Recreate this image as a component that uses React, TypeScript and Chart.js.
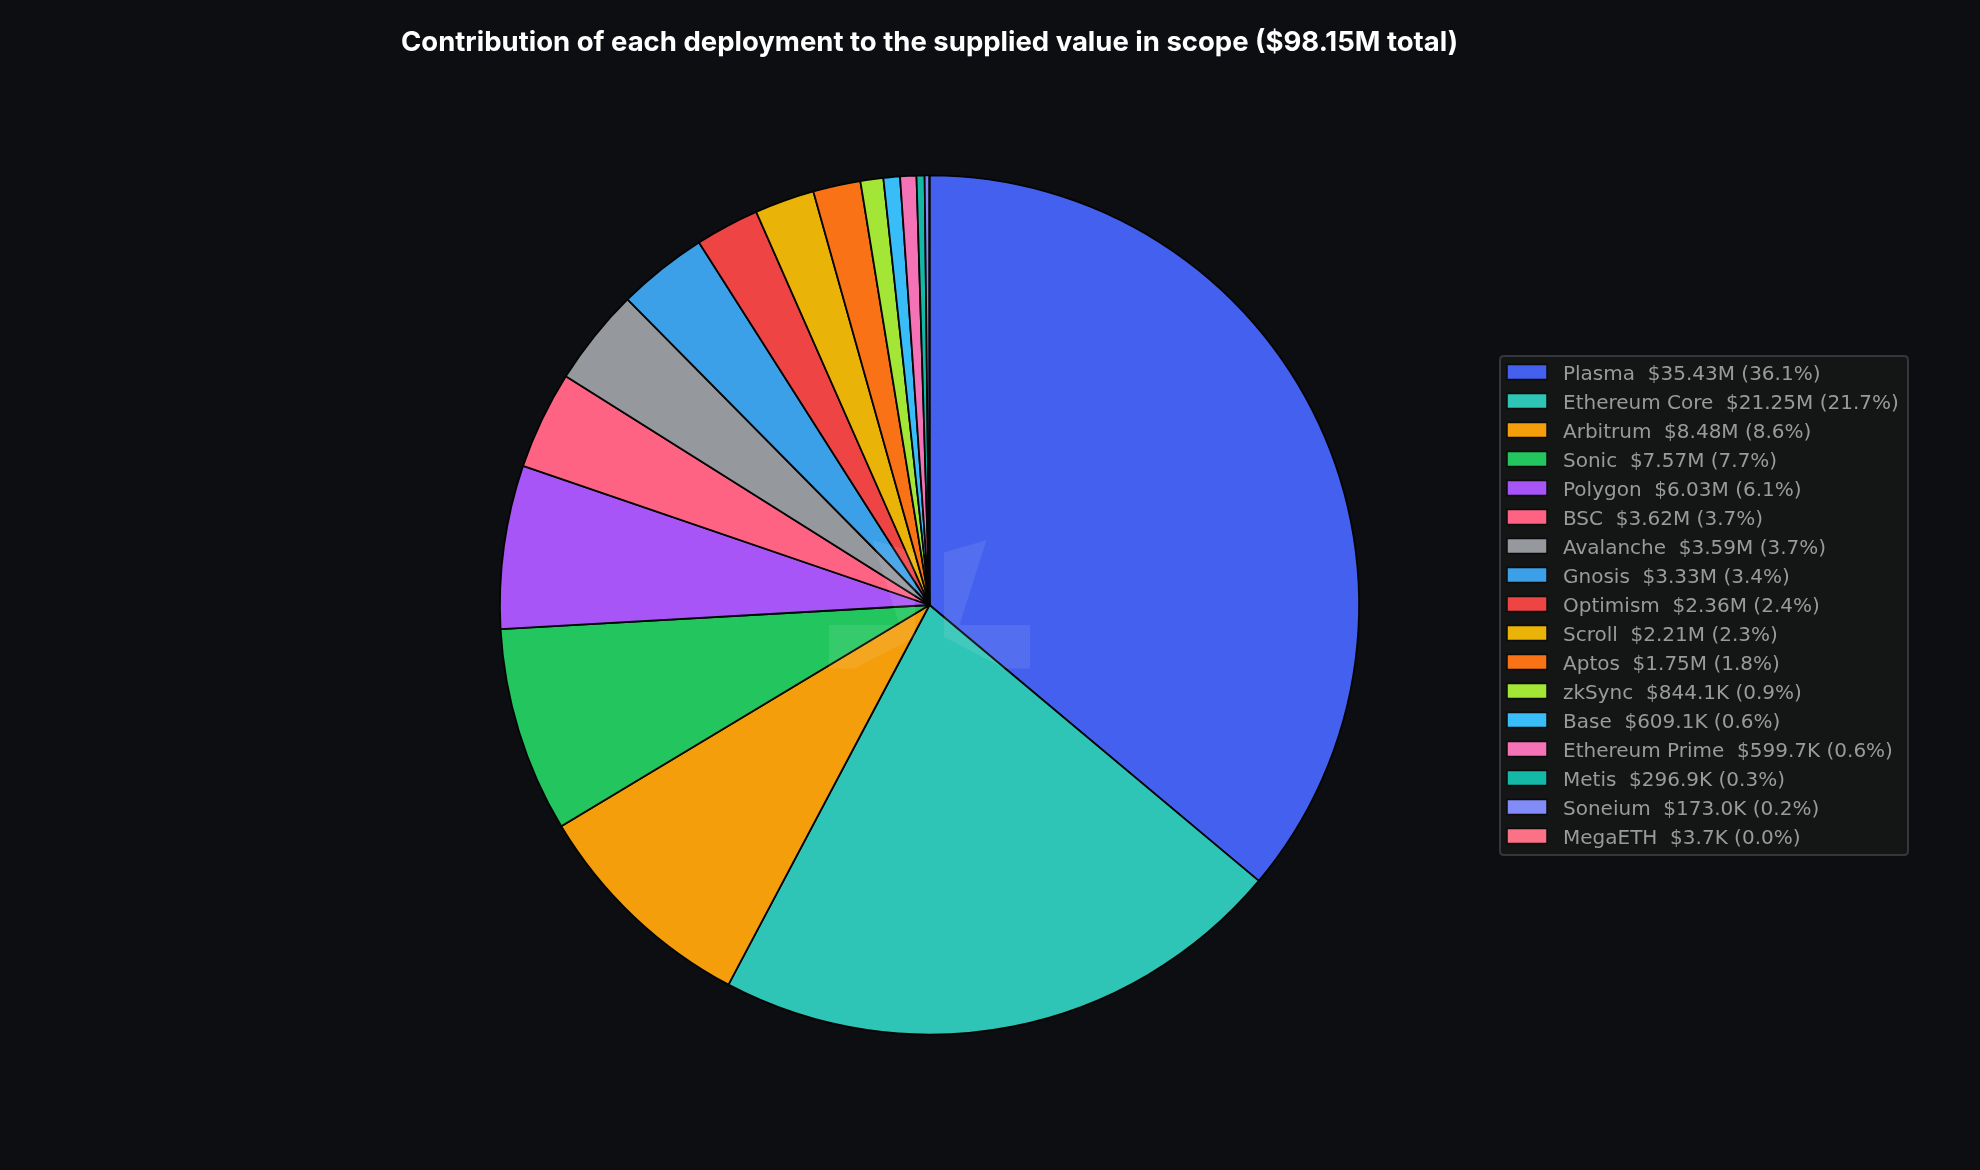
import React, { useEffect, useRef } from "react";
import { Chart, registerables } from "chart.js";

Chart.register(...registerables);

// ---- data ----
const deployments = [
  "Plasma",
  "Ethereum Core",
  "Arbitrum",
  "Sonic",
  "Polygon",
  "BSC",
  "Avalanche",
  "Gnosis",
  "Optimism",
  "Scroll",
  "Aptos",
  "zkSync",
  "Base",
  "Ethereum Prime",
  "Metis",
  "Soneium",
  "MegaETH",
];

// supplied value in $M
const suppliedM = [
  35.43, 21.25, 8.48, 7.57, 6.03, 3.62, 3.59, 3.33, 2.36, 2.21, 1.75, 0.8441,
  0.6091, 0.5997, 0.2969, 0.173, 0.0037,
];

const sliceColors = [
  "#4361EE",
  "#2EC4B6",
  "#F59E0B",
  "#22C55E",
  "#A855F7",
  "#FF6384",
  "#95989D",
  "#3BA0E8",
  "#EF4444",
  "#EAB308",
  "#F97316",
  "#A3E635",
  "#38BDF8",
  "#F472B6",
  "#14B8A6",
  "#818CF8",
  "#FB7185",
];

const total = suppliedM.reduce((a, b) => a + b, 0);
const fmtMoney = (v: number) =>
  v >= 1 ? `$${v.toFixed(2)}M` : `$${(v * 1000).toFixed(1)}K`;
const legendTexts = deployments.map(
  (d, i) =>
    `${d}  ${fmtMoney(suppliedM[i])} (${((suppliedM[i] / total) * 100).toFixed(1)}%)`
);
const titleText = `Contribution of each deployment to the supplied value in scope ($${total.toFixed(
  2
)}M total)`;

// ---- styling constants ----
const W = 1980;
const H = 1170;
const BG = "#0d0e11";

const watermarkPlugin = {
  id: "watermark",
  afterDatasetsDraw(chart: any) {
    const meta = chart.getDatasetMeta(0);
    if (!meta || !meta.data.length) return;
    const cx = meta.data[0].x;
    const cy = meta.data[0].y;
    const shape = [
      [14.5, -52.5],
      [57, -65],
      [30, 20],
      [100.5, 20],
      [100.5, 63.5],
      [75, 63.5],
      [14.5, 32],
    ];
    const ctx = chart.ctx;
    ctx.save();
    ctx.fillStyle = "rgba(255,255,255,0.085)";
    for (const sign of [1, -1]) {
      ctx.beginPath();
      shape.forEach(([x, y], i) => {
        const px = cx + sign * x;
        const py = cy + y;
        if (i === 0) ctx.moveTo(px, py);
        else ctx.lineTo(px, py);
      });
      ctx.closePath();
      ctx.fill();
    }
    ctx.restore();
  },
};

const legendBoxPlugin = {
  id: "customLegend",
  afterDraw(chart: any) {
    const ctx = chart.ctx;
    const boxX = 1500;
    const boxY = 356;
    const boxW = 408;
    const boxH = 499;
    const rowStart = 372;
    const rowStep = 29;
    ctx.save();
    // frame
    ctx.beginPath();
    const r = 4;
    ctx.moveTo(boxX + r, boxY);
    ctx.lineTo(boxX + boxW - r, boxY);
    ctx.quadraticCurveTo(boxX + boxW, boxY, boxX + boxW, boxY + r);
    ctx.lineTo(boxX + boxW, boxY + boxH - r);
    ctx.quadraticCurveTo(boxX + boxW, boxY + boxH, boxX + boxW - r, boxY + boxH);
    ctx.lineTo(boxX + r, boxY + boxH);
    ctx.quadraticCurveTo(boxX, boxY + boxH, boxX, boxY + boxH - r);
    ctx.lineTo(boxX, boxY + r);
    ctx.quadraticCurveTo(boxX, boxY, boxX + r, boxY);
    ctx.closePath();
    ctx.fillStyle = "#141515";
    ctx.fill();
    ctx.lineWidth = 2;
    ctx.strokeStyle = "#35373a";
    ctx.stroke();

    ctx.font = '20px "DejaVu Sans"';
    ctx.textBaseline = "alphabetic";
    ctx.textAlign = "left";
    legendTexts.forEach((t, i) => {
      const cy = rowStart + i * rowStep;
      ctx.fillStyle = sliceColors[i];
      ctx.fillRect(1507, cy - 7.5, 40, 15);
      ctx.lineWidth = 1.5;
      ctx.strokeStyle = "#0b0b0b";
      ctx.strokeRect(1507, cy - 7.5, 40, 15);
      ctx.fillStyle = "#9a9a9a";
      ctx.fillText(t, 1563, cy + 7.5);
    });
    ctx.restore();
  },
};

export default function App() {
  const canvasRef = useRef<HTMLCanvasElement | null>(null);

  useEffect(() => {
    document.body.style.margin = "0";
    document.body.style.overflow = "hidden";
    document.body.style.background = BG;
    const canvas = canvasRef.current;
    if (!canvas) return;
    const chart = new Chart(canvas, {
      type: "pie",
      data: {
        labels: deployments,
        datasets: [
          {
            data: suppliedM,
            backgroundColor: sliceColors,
            borderColor: "#050505",
            borderWidth: 1.8,
          },
        ],
      },
      options: {
        animation: false,
        responsive: false,
        maintainAspectRatio: false,
        layout: {
          padding: { left: 0, right: 121, top: 0, bottom: 134.5 },
        },
        plugins: {
          legend: { display: false },
          tooltip: { enabled: false },
          title: {
            display: true,
            text: titleText,
            color: "#ffffff",
            font: { family: "Inter", size: 27.5, weight: "bold" },
            padding: { top: 26, bottom: 115.5 },
          },
        },
      },
      plugins: [watermarkPlugin, legendBoxPlugin],
    });
    return () => chart.destroy();
  }, []);

  return (
    <div
      style={{
        position: "absolute",
        left: 0,
        top: 0,
        width: W,
        height: H,
        background: BG,
      }}
    >
      <canvas
        ref={canvasRef}
        width={W}
        height={H}
        style={{ width: W, height: H, display: "block" }}
      />
    </div>
  );
}
